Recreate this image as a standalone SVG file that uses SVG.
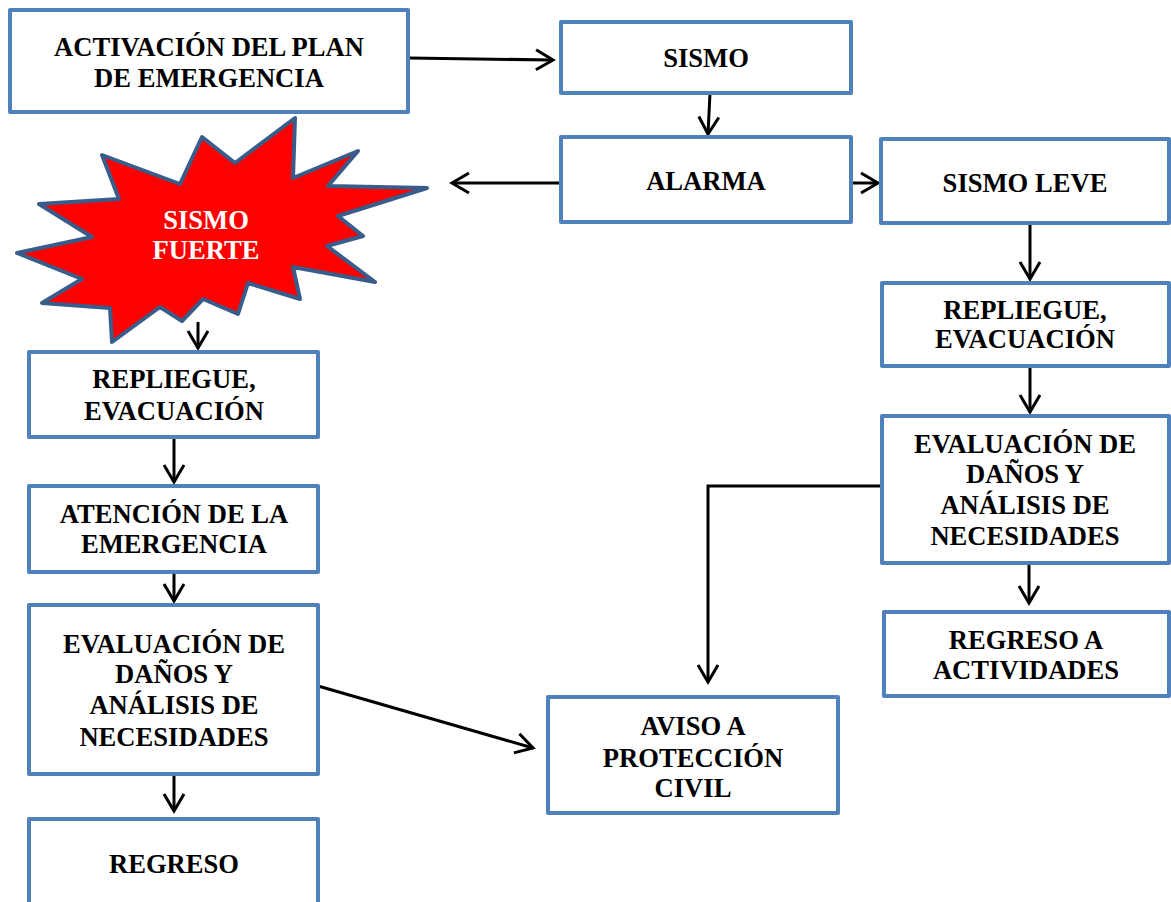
<svg xmlns="http://www.w3.org/2000/svg" width="1171" height="902" viewBox="0 0 1171 902">
<style>
.box{fill:#fff;stroke:#4f81bd;stroke-width:4;stroke-linejoin:round}
.t{font-family:"Liberation Serif","Times New Roman",serif;font-weight:bold;font-size:26.6px;text-anchor:middle;fill:#000}
.w{fill:#fff}
.c{fill:none;stroke:#000;stroke-width:3}
</style>
<defs>
<marker id="ah" viewBox="-20 -12 24 24" refX="0" refY="0" markerWidth="24" markerHeight="24" markerUnits="userSpaceOnUse" orient="auto">
<path d="M-17,-10 L0,0 L-17,10" fill="none" stroke="#000" stroke-width="3" stroke-linejoin="miter"/>
</marker>
</defs>
<rect width="1171" height="902" fill="#fff"/>
<g id="connectors">
<line class="c" x1="409" y1="58" x2="553" y2="60" marker-end="url(#ah)"/>
<line class="c" x1="710" y1="93" x2="708" y2="134" marker-end="url(#ah)"/>
<line class="c" x1="561" y1="183" x2="452" y2="183" marker-end="url(#ah)"/>
<line class="c" x1="851" y1="183" x2="878" y2="183" marker-end="url(#ah)"/>
<line class="c" x1="198" y1="322" x2="198" y2="348" marker-end="url(#ah)"/>
<line class="c" x1="174" y1="437" x2="174" y2="482" marker-end="url(#ah)"/>
<line class="c" x1="174" y1="572" x2="174" y2="601" marker-end="url(#ah)"/>
<line class="c" x1="174" y1="774" x2="174" y2="811" marker-end="url(#ah)"/>
<line class="c" x1="318" y1="686" x2="533" y2="748" marker-end="url(#ah)"/>
<line class="c" x1="1030" y1="223" x2="1030" y2="279" marker-end="url(#ah)"/>
<line class="c" x1="1030" y1="366" x2="1030" y2="412" marker-end="url(#ah)"/>
<line class="c" x1="1029" y1="563" x2="1029" y2="603" marker-end="url(#ah)"/>
<polyline class="c" points="882,486 708,486 708,682" marker-end="url(#ah)"/>
</g>
<g id="activacion">
<rect class="box" x="10" y="10" width="398" height="102"/>
<text class="t" x="209" y="56">ACTIVACIÓN DEL PLAN</text>
<text class="t" x="209" y="87">DE EMERGENCIA</text>
</g>
<g id="sismo">
<rect class="box" x="561" y="22" width="290" height="71"/>
<text class="t" x="706" y="67">SISMO</text>
</g>
<g id="alarma">
<rect class="box" x="561" y="137" width="290" height="85"/>
<text class="t" x="706" y="190">ALARMA</text>
</g>
<g id="sismo-leve">
<rect class="box" x="881" y="139" width="288" height="84"/>
<text class="t" x="1025" y="192">SISMO LEVE</text>
</g>
<g id="sismo-fuerte">
<polygon points="295,118 293,178 358,151 328,186 427,188 338,216 363,236 327,246 375,282 293,267 300,299 248,283 238,314 203,299 182,321 160,307 112,342 110,308 42,303 82,279 17,253 92,237 39,204 119,199 102,155 180,184 202,137 235,163" fill="#ff0000" stroke="#385d8a" stroke-width="4" stroke-linejoin="round"/>
<text class="t w" x="206" y="229">SISMO</text>
<text class="t w" x="206" y="259">FUERTE</text>
</g>
<g id="repliegue-izq">
<rect class="box" x="29" y="352" width="289" height="85"/>
<text class="t" x="174" y="388">REPLIEGUE,</text>
<text class="t" x="174" y="420">EVACUACIÓN</text>
</g>
<g id="atencion">
<rect class="box" x="29" y="486" width="289" height="86"/>
<text class="t" x="174" y="523">ATENCIÓN DE LA</text>
<text class="t" x="174" y="553">EMERGENCIA</text>
</g>
<g id="evaluacion-izq">
<rect class="box" x="29" y="605" width="289" height="169"/>
<text class="t" x="174" y="653">EVALUACIÓN DE</text>
<text class="t" x="174" y="683">DAÑOS Y</text>
<text class="t" x="174" y="714">ANÁLISIS DE</text>
<text class="t" x="174" y="746">NECESIDADES</text>
</g>
<g id="regreso">
<rect class="box" x="29" y="819" width="289" height="90"/>
<text class="t" x="174" y="873">REGRESO</text>
</g>
<g id="aviso">
<rect class="box" x="548" y="697" width="290" height="116"/>
<text class="t" x="693" y="735">AVISO A</text>
<text class="t" x="693" y="767">PROTECCIÓN</text>
<text class="t" x="693" y="797">CIVIL</text>
</g>
<g id="repliegue-der">
<rect class="box" x="882" y="283" width="287" height="83"/>
<text class="t" x="1025" y="319">REPLIEGUE,</text>
<text class="t" x="1025" y="348">EVACUACIÓN</text>
</g>
<g id="evaluacion-der">
<rect class="box" x="882" y="416" width="287" height="147"/>
<text class="t" x="1025" y="453">EVALUACIÓN DE</text>
<text class="t" x="1025" y="483">DAÑOS Y</text>
<text class="t" x="1025" y="514">ANÁLISIS DE</text>
<text class="t" x="1025" y="545">NECESIDADES</text>
</g>
<g id="regreso-actividades">
<rect class="box" x="884" y="612" width="285" height="84"/>
<text class="t" x="1026" y="649">REGRESO A</text>
<text class="t" x="1026" y="679">ACTIVIDADES</text>
</g>
</svg>
